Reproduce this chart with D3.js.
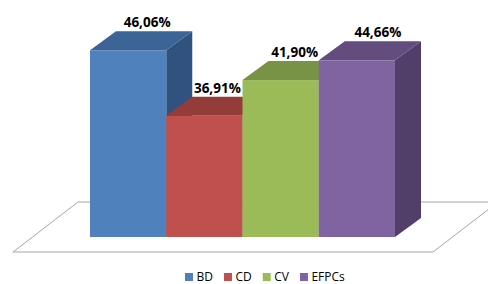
<!DOCTYPE html>
<html>
<head>
<meta charset="utf-8">
<script src="https://cdn.jsdelivr.net/npm/d3@7"></script>
<style>
  body { margin: 0; background: #fff; }
  svg { display: block; }
</style>
</head>
<body>
<svg width="488" height="284"></svg>
<script>
// chart data
var categories = ["BD", "CD", "CV", "EFPCs"];
var values = [46.06, 36.91, 41.90, 44.66];
var valueLabels = ["46,06%", "36,91%", "41,90%", "44,66%"];

var frontCol = ["#4F81BD", "#C0504D", "#9BBB59", "#8064A2"];
var topCol   = ["#3C6496", "#943C3A", "#789345", "#634D7F"];
var sideCol  = ["#2F527E", "#7E3332", "#667D3A", "#523F69"];
var labelNudge = [6, 0, 1, 8];

var svg = d3.select("svg");

var x = d3.scaleBand()
    .domain(categories)
    .range([90, 395])
    .padding(0);

var y = d3.scaleLinear()
    .domain([20, 50])
    .range([237, 22]);

var dx = 26, dy = 19;   // depth of the boxes
var bw = x.bandwidth();

// floor (parallelogram)
var base = y(20);
var fFront = base + 15, fBack = base - 35;
var floor = svg.append("g")
    .attr("fill", "none")
    .attr("stroke", "#A6A6A6")
    .attr("stroke-width", 1);
floor.append("path")
    .attr("d", "M13," + fFront + "L433," + fFront + "L498," + fBack + "L78," + fBack + "Z");

// bars
var bars = svg.append("g").selectAll("g")
    .data(values)
    .enter().append("g");

bars.append("path")   // side
    .attr("fill", function(d, i) { return sideCol[i]; })
    .attr("d", function(d, i) {
        var x1 = x(categories[i]) + bw, y0 = y(d);
        return "M" + x1 + "," + y0 + "L" + (x1 + dx) + "," + (y0 - dy) +
               "L" + (x1 + dx) + "," + (base - dy) + "L" + x1 + "," + base + "Z";
    });

bars.append("path")   // top
    .attr("fill", function(d, i) { return topCol[i]; })
    .attr("d", function(d, i) {
        var x0 = x(categories[i]), y0 = y(d);
        return "M" + x0 + "," + y0 + "L" + (x0 + dx) + "," + (y0 - dy) +
               "L" + (x0 + bw + dx) + "," + (y0 - dy) + "L" + (x0 + bw) + "," + y0 + "Z";
    });

bars.append("rect")   // front
    .attr("x", function(d, i) { return x(categories[i]); })
    .attr("y", function(d) { return y(d); })
    .attr("width", bw)
    .attr("height", function(d) { return base - y(d); })
    .attr("fill", function(d, i) { return frontCol[i]; });

// value labels
svg.append("g").selectAll("text")
    .data(values)
    .enter().append("text")
    .attr("x", function(d, i) { return x(categories[i]) + bw / 2 + dx / 2 + labelNudge[i]; })
    .attr("y", function(d) { return y(d) - dy - 4; })
    .attr("text-anchor", "middle")
    .attr("font-family", "'Open Sans', sans-serif")
    .attr("font-weight", "bold")
    .attr("font-size", "13.5px")
    .attr("fill", "#000")
    .text(function(d, i) { return valueLabels[i]; });

// legend
var legend = svg.append("g")
    .attr("transform", "translate(185,281)");
var lx = 0;
categories.forEach(function(c, i) {
    var item = legend.append("g").attr("transform", "translate(" + lx + ",0)");
    item.append("rect")
        .attr("x", 0).attr("y", -8)
        .attr("width", 8).attr("height", 8)
        .attr("fill", frontCol[i]);
    var t = item.append("text")
        .attr("x", 11.5).attr("y", 0)
        .attr("font-family", "'Open Sans', sans-serif")
        .attr("font-size", "12px")
        .attr("fill", "#000")
        .text(c);
    lx += 11.5 + t.node().getComputedTextLength() + 11;
});
</script>
</body>
</html>
